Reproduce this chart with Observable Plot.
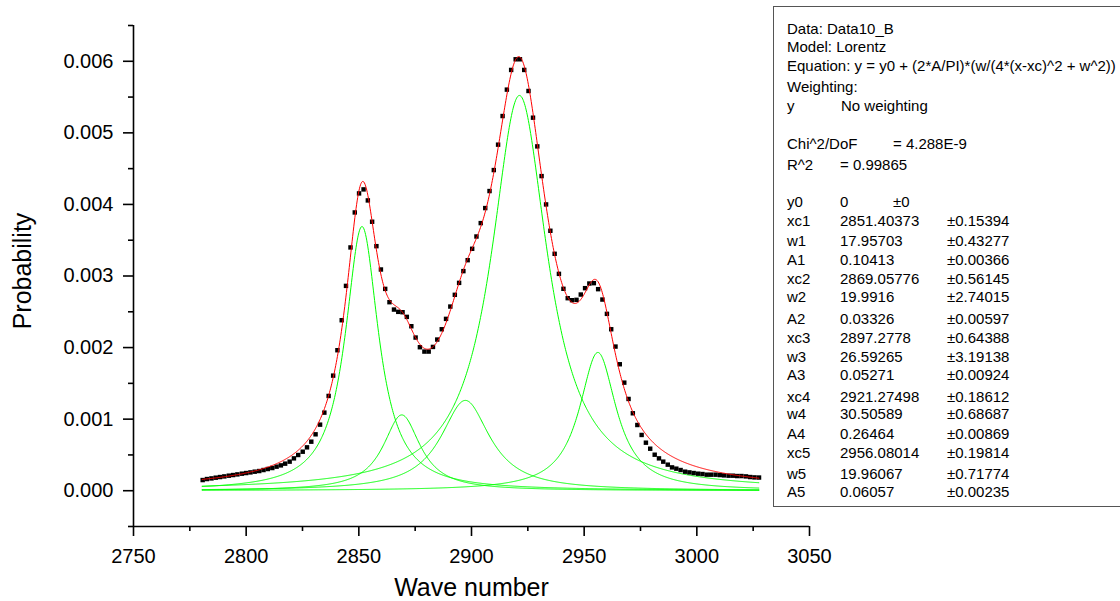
<!DOCTYPE html>
<html><head><meta charset="utf-8">
<script src="https://cdn.jsdelivr.net/npm/d3@7"></script>
<script src="https://cdn.jsdelivr.net/npm/@observablehq/plot@0.6"></script>
<style>
html,body{margin:0;padding:0;background:#fff;overflow:hidden;width:1120px;height:601px;}
#wrap{position:relative;width:1120px;height:601px;overflow:hidden;}
#legendBox{position:absolute;left:773px;top:6px;width:380px;height:501px;border:1px solid #555;box-sizing:border-box;}
.lg{position:absolute;white-space:nowrap;line-height:15px;font-family:"Liberation Sans",Arial,sans-serif;font-size:15px;color:#000;}
</style></head><body><div id="wrap"><div id="legendBox"></div></div>
<script>
// ---- measured data (Data10_B) ----
const waveNumber = [2780.7,2782.6,2784.6,2786.5,2788.4,2790.3,2792.3,2794.2,2796.1,2798.1,
2800.0,2801.9,2803.8,2805.8,2807.7,2809.6,2811.6,2813.5,2815.4,2817.3,
2819.3,2821.2,2823.1,2825.1,2827.0,2828.9,2830.8,2832.8,2834.7,2836.6,
2838.6,2840.5,2842.4,2844.3,2846.3,2848.2,2850.1,2852.1,2854.0,2855.9,
2857.8,2859.8,2861.7,2863.6,2865.6,2867.5,2869.4,2871.3,2873.3,2875.2,
2877.1,2879.1,2881.0,2882.9,2884.8,2886.8,2888.7,2890.6,2892.6,2894.5,
2896.4,2898.3,2900.3,2902.2,2904.1,2906.1,2908.0,2909.9,2911.8,2913.8,
2915.7,2917.6,2919.6,2921.5,2923.4,2925.3,2927.3,2929.2,2931.1,2933.1,
2935.0,2936.9,2938.8,2940.8,2942.7,2944.6,2946.6,2948.5,2950.4,2952.3,
2954.3,2956.2,2958.1,2960.1,2962.0,2963.9,2965.8,2967.8,2969.7,2971.6,
2973.6,2975.5,2977.4,2979.3,2981.3,2983.2,2985.1,2987.1,2989.0,2990.9,
2992.8,2994.8,2996.7,2998.6,3000.6,3002.5,3004.4,3006.3,3008.3,3010.2,
3012.1,3014.1,3016.0,3017.9,3019.8,3021.8,3023.7,3025.6,3027.6];
const probability = [0.000149,0.000163,0.000172,0.000182,0.000191,0.000200,0.000210,0.000219,0.000228,0.000238,
0.000247,0.000256,0.000266,0.000275,0.000289,0.000303,0.000317,0.000336,0.000354,0.000378,
0.000406,0.000452,0.000499,0.000545,0.000606,0.000685,0.000788,0.000923,0.001091,0.001324,
0.001608,0.001963,0.002382,0.002862,0.003399,0.003888,0.004154,0.004210,0.004056,0.003758,
0.003417,0.003091,0.002820,0.002634,0.002531,0.002499,0.002494,0.002429,0.002298,0.002140,
0.002005,0.001944,0.001944,0.002009,0.002112,0.002256,0.002401,0.002573,0.002737,0.002904,
0.003068,0.003221,0.003380,0.003552,0.003739,0.003949,0.004187,0.004480,0.004835,0.005235,
0.005604,0.005879,0.006028,0.006028,0.005879,0.005585,0.005212,0.004811,0.004396,0.004000,
0.003632,0.003310,0.003030,0.002821,0.002690,0.002662,0.002667,0.002741,0.002830,0.002895,
0.002900,0.002816,0.002671,0.002471,0.002256,0.002014,0.001767,0.001510,0.001282,0.001082,
0.000918,0.000779,0.000671,0.000587,0.000503,0.000452,0.000406,0.000364,0.000326,0.000308,
0.000289,0.000266,0.000256,0.000247,0.000238,0.000233,0.000224,0.000224,0.000224,0.000219,
0.000214,0.000210,0.000210,0.000205,0.000205,0.000200,0.000191,0.000186,0.000184];

// ---- fitted Lorentz parameters (from the chart's result table) ----
const fitY0 = 0;
const peakCenters = [2851.40373, 2869.05776, 2897.2778, 2921.27498, 2956.08014];
const peakWidths  = [17.95703, 19.9916, 26.59265, 30.50589, 19.96067];
const peakAreas   = [0.10413, 0.03326, 0.05271, 0.26464, 0.06057];
const fitRange    = [2780.5, 3027.7];

// ---- axis ticks ----
const xTicks = [2750, 2800, 2850, 2900, 2950, 3000, 3050];
const xMinorTicks = [2775, 2825, 2875, 2925, 2975, 3025];
const yTicks = [0, 0.001, 0.002, 0.003, 0.004, 0.005, 0.006];
const yMinorTicks = [-0.0005, 0.0005, 0.0015, 0.0025, 0.0035, 0.0045, 0.0055, 0.0065];

// ---- result table text ----
const headerLines = ["Data: Data10_B", "Model: Lorentz", "Equation: y = y0 + (2*A/PI)*(w/(4*(x-xc)^2 + w^2))", "Weighting:"];
const weightingRow = ["y", "No weighting"];
const chiRow = ["Chi^2/DoF", "= 4.288E-9"];
const r2Row = ["R^2", "=  0.99865"];
const paramNames  = ["y0","xc1","w1","A1","xc2","w2","A2","xc3","w3","A3","xc4","w4","A4","xc5","w5","A5"];
const paramValues = ["0","2851.40373","17.95703","0.10413","2869.05776","19.9916","0.03326","2897.2778","26.59265","0.05271","2921.27498","30.50589","0.26464","2956.08014","19.96067","0.06057"];
const paramErrors = ["±0","±0.15394","±0.43277","±0.00366","±0.56145","±2.74015","±0.00597","±0.64388","±3.19138","±0.00924","±0.18612","±0.68687","±0.00869","±0.19814","±0.71774","±0.00235"];

// ---- build ----
const points = waveNumber.map((x, i) => ({x, y: probability[i]}));
const lorentz = (x, k) => (2 * peakAreas[k] / Math.PI) * (peakWidths[k] / (4 * (x - peakCenters[k]) ** 2 + peakWidths[k] ** 2));
const grid = d3.range(fitRange[0], fitRange[1] + 0.001, 0.25);
const components = [];
peakCenters.forEach((c, k) => grid.forEach(x => components.push({x, y: fitY0 + lorentz(x, k), k})));
const fitCurve = grid.map(x => ({x, y: fitY0 + d3.sum(peakCenters, (c, k) => lorentz(x, k))}));

const FONT = '"Liberation Sans", Arial, sans-serif';
const chart = Plot.plot({
  width: 1120, height: 601,
  marginLeft: 133, marginRight: 311, marginTop: 25, marginBottom: 75,
  x: {domain: [2750, 3050]},
  y: {domain: [-0.0005, 0.0065]},
  style: {fontFamily: FONT, background: "transparent", color: "#000"},
  marks: [
    Plot.line(components, {x: "x", y: "y", z: "k", stroke: "#00ff00", strokeWidth: 1}),
    Plot.dot(points, {x: "x", y: "y", symbol: "square", r: 2.5, fill: "#000", stroke: "none"}),
    Plot.line(fitCurve, {x: "x", y: "y", stroke: "#ff0000", strokeWidth: 1}),
    Plot.ruleX([2750], {y1: -0.0005, y2: 0.0065, stroke: "#000", strokeWidth: 1.6}),
    Plot.ruleY([-0.0005], {x1: 2750, x2: 3050, stroke: "#000", strokeWidth: 1.6}),
    Plot.axisX({ticks: xTicks, tickSize: 10, tickPadding: 12, fontSize: 20, tickFormat: d => String(d), label: null, strokeWidth: 1.6}),
    Plot.axisX({ticks: xMinorTicks, tickSize: 5, tickFormat: () => "", label: null, strokeWidth: 1.6}),
    Plot.axisY({ticks: yTicks, tickSize: 10, tickPadding: 10, fontSize: 20, tickFormat: d3.format(".3f"), label: null, strokeWidth: 1.6}),
    Plot.axisY({ticks: yMinorTicks, tickSize: 5, tickFormat: () => "", label: null, strokeWidth: 1.6}),
    Plot.text(["Wave number"], {frameAnchor: "bottom", dy: 61.5, lineAnchor: "middle", textAnchor: "middle", fontSize: 25, fill: "#000"}),
    Plot.text(["Probability"], {frameAnchor: "left", dx: -111, dy: -5, rotate: -90, lineAnchor: "middle", textAnchor: "middle", fontSize: 25, fill: "#000"})
  ]
});
const wrap = document.getElementById("wrap");
chart.style.position = "absolute"; chart.style.left = "0"; chart.style.top = "0";
wrap.insertBefore(chart, wrap.firstChild);

// legend text layout
const rowCenters = [28, 46, 65, 86, 105, 143, 164, 201, 220, 240, 259, 278, 296, 318, 337, 356, 374, 396, 413, 433, 452, 473, 491];
function put(text, x, cy) {
  const d = document.createElement("div");
  d.className = "lg"; d.textContent = text;
  d.style.left = x + "px"; d.style.top = (cy - 7.5) + "px";
  wrap.appendChild(d);
}
headerLines.forEach((t, i) => put(t, 787, rowCenters[i]));
put(weightingRow[0], 787, rowCenters[4]); put(weightingRow[1], 841, rowCenters[4]);
put(chiRow[0], 787, rowCenters[5]); put(chiRow[1], 893, rowCenters[5]);
put(r2Row[0], 787, rowCenters[6]); put(r2Row[1], 840, rowCenters[6]);
paramNames.forEach((n, i) => {
  const cy = rowCenters[7 + i];
  put(n, 787, cy);
  put(paramValues[i], 840, cy);
  put(paramErrors[i], i === 0 ? 893 : 947, cy);
});
</script></body></html>
